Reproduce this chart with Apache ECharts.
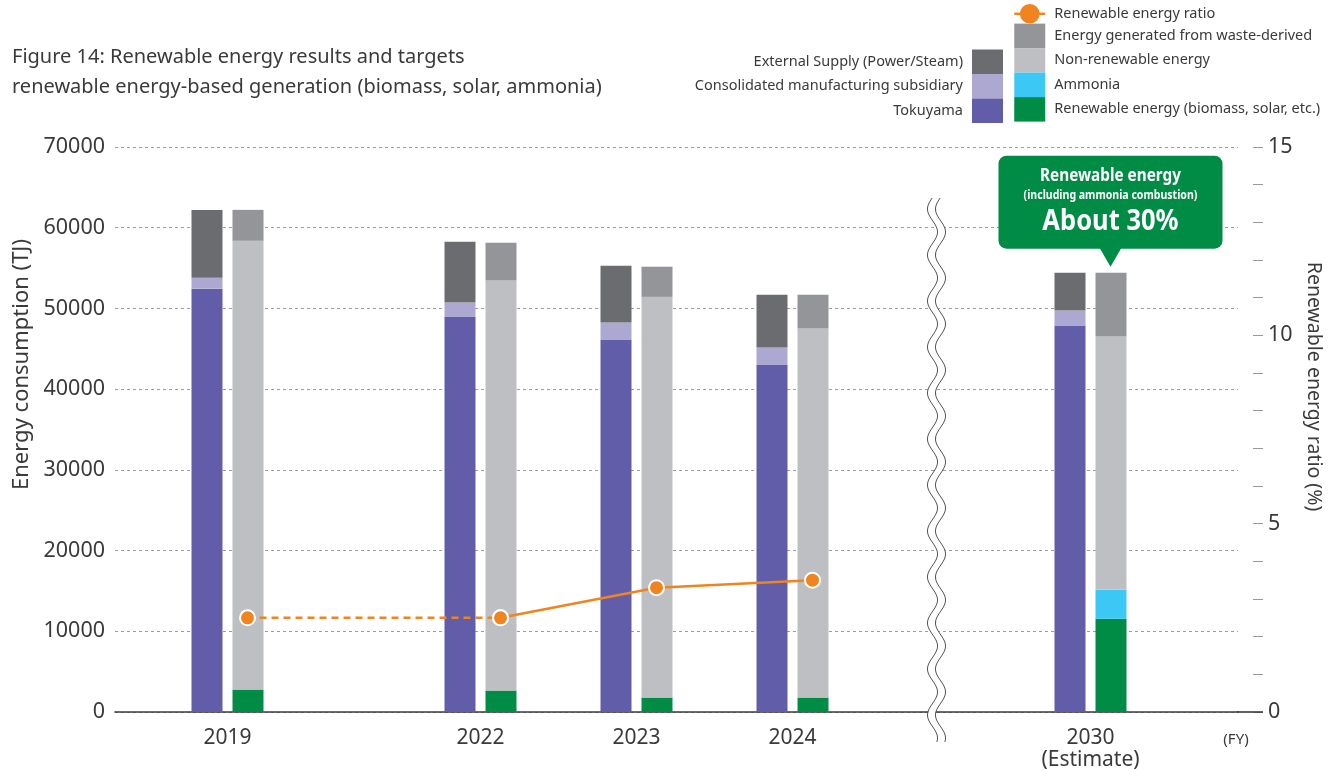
<!DOCTYPE html>
<html>
<head>
<meta charset="utf-8">
<title>Renewable energy results and targets</title>
<script src="https://cdn.jsdelivr.net/npm/echarts@6/dist/echarts.min.js"></script>
<style>
  html, body { margin: 0; padding: 0; background: #fff; }
  #chart { width: 1339px; height: 771px; }
</style>
</head>
<body>
<div id="chart"></div>
<script>
// ---- data (TJ per fiscal year, each array is one stacked segment) ----
const fiscalYears = ['2019', '2022', '2023', '2024', '2030\n(Estimate)'];

// left column: consumption by entity
const tokuyama       = [52450, 49000, 46150, 43060, 47880];
const consolidated   = [1360, 1720, 2100, 2100, 1850];
const externalSupply = [8400, 7540, 7050, 6550, 4700];

// right column: consumption by source
const renewable    = [2780, 2660, 1790, 1790, 11550];
const ammonia      = [0, 0, 0, 0, 3590];
const nonRenewable = [55600, 50790, 49640, 45720, 31380];
const wasteDerived = [3830, 4690, 3740, 4200, 7910];

// renewable energy ratio (%)
const renewableRatio = [2.5, 2.5, 3.3, 3.5, null];

// axis ticks
const energyTicks = [0, 10000, 20000, 30000, 40000, 50000, 60000, 70000];
const ratioTicks  = [0, 5, 10, 15];

// ---- layout of the broken time axis ----
// The axis is divided into fine slots so that the year groups can sit
// at uneven distances (the 2024-2030 stretch is compressed by a break).
const slotCount = 1123;
const groupSlot = [112, 365, 521, 677, 975];
const BAR_W = 31, BAR_GAP = 10;
const pairShift = Math.floor((BAR_W + BAR_GAP) / 2);   // slot offset of the right column

const FONT = "'Noto Sans', 'Open Sans', sans-serif";
const TEXT = '#3a3a3a';

const C = {
  tokuyama: '#615DA8', consolidated: '#ADA8D2', external: '#6B6C70',
  waste: '#949599', nonRenew: '#BEBFC3', ammonia: '#3CC8F4',
  renew: '#008C44', ratio: '#F0841E'
};

const slotLabels = new Array(slotCount).fill('');
groupSlot.forEach((s, i) => { slotLabels[s] = fiscalYears[i]; });

// spread a per-year array over the slot axis
function spread(arr, shift, pick) {
  const out = new Array(slotCount).fill(null);
  (pick || arr.map((_, i) => i)).forEach(i => { out[groupSlot[i] + (shift || 0)] = arr[i]; });
  return out;
}

function barSeries(name, data, stack, color) {
  return {
    name, type: 'bar', stack, data: spread(data),
    barWidth: BAR_W, barGap: (BAR_GAP / BAR_W * 100) + '%',
    itemStyle: { color }, emphasis: { disabled: true }, z: 3
  };
}

const lineCommon = {
  name: 'Renewable energy ratio', type: 'line', xAxisIndex: 0, yAxisIndex: 1,
  symbol: 'circle', symbolSize: 15, connectNulls: true,
  itemStyle: { color: C.ratio, borderColor: '#fff', borderWidth: 2 },
  emphasis: { disabled: true }, z: 5
};

const chart = echarts.init(document.getElementById('chart'));

const legendText = { fontFamily: FONT, fontSize: 14.5, color: TEXT };

const option = {
  animation: false,
  textStyle: { fontFamily: FONT },
  grid: { left: 115, top: 147, width: slotCount, bottom: 57.5, containLabel: false },
  legend: [
    {
      data: ['External Supply (Power/Steam)', 'Consolidated manufacturing subsidiary', 'Tokuyama']
        .map(name => ({ name, icon: 'rect' })),
      orient: 'vertical', align: 'right', right: 336, top: 49.5, padding: 0,
      itemWidth: 31, itemHeight: 24.5, itemGap: 0, selectedMode: false,
      textStyle: Object.assign({ padding: [0, 4, 0, 0] }, legendText)
    },
    {
      data: [{
        name: 'Renewable energy ratio',
        lineStyle: { type: 'solid', width: 2.5, color: C.ratio },
        itemStyle: { color: C.ratio, borderWidth: 0 }
      }].concat(
        ['Energy generated from waste-derived', 'Non-renewable energy', 'Ammonia',
         'Renewable energy (biomass, solar, etc.)'].map(name => ({ name, icon: 'rect' }))),
      orient: 'vertical', align: 'left', left: 1013, top: 4, padding: 0,
      itemWidth: 31, itemHeight: 24.5, itemGap: 0, selectedMode: false,
      textStyle: Object.assign({ padding: [0, 0, 0, 4] }, legendText)
    }
  ],
  xAxis: {
    type: 'category', data: slotLabels, boundaryGap: true,
    axisLine: { show: true, lineStyle: { color: '#3a3a3a', width: 1.6 } },
    axisTick: { show: false },
    splitLine: { show: false },
    axisLabel: {
      interval: 0, fontFamily: FONT, fontSize: 21, color: TEXT, lineHeight: 22, margin: 15
    }
  },
  yAxis: [
    {
      type: 'value', min: energyTicks[0], max: energyTicks[energyTicks.length - 1],
      interval: energyTicks[1] - energyTicks[0],
      name: 'Energy consumption (TJ)', nameLocation: 'middle', nameGap: 79,
      nameTextStyle: { fontFamily: FONT, fontSize: 22, color: TEXT, padding: [0, 0, 0, 130] },
      axisLine: { show: false }, axisTick: { show: false },
      axisLabel: { fontFamily: FONT, fontSize: 21.5, color: TEXT, margin: 10, formatter: v => String(v) },
      splitLine: { lineStyle: { color: '#9d9d9d', type: [3, 3], width: 1 } }
    },
    {
      type: 'value', min: 0, max: ratioTicks[ratioTicks.length - 1], interval: 1,
      position: 'right', offset: 15,
      name: 'Renewable energy ratio (%)', nameLocation: 'middle', nameGap: 44, nameRotate: -90,
      nameTextStyle: { fontFamily: FONT, fontSize: 19.5, color: TEXT, padding: [0, 86, 0, 0] },
      axisLine: { show: false },
      axisTick: { show: true, length: 10, inside: false, lineStyle: { color: '#9a9a9a', width: 1 } },
      axisLabel: {
        fontFamily: FONT, fontSize: 21.5, color: TEXT, margin: 15,
        formatter: v => (ratioTicks.indexOf(v) >= 0 ? String(v) : '')
      },
      splitLine: { show: false }
    }
  ],
  series: [
    barSeries('Tokuyama', tokuyama, 'entity', C.tokuyama),
    barSeries('Consolidated manufacturing subsidiary', consolidated, 'entity', C.consolidated),
    barSeries('External Supply (Power/Steam)', externalSupply, 'entity', C.external),
    barSeries('Renewable energy (biomass, solar, etc.)', renewable, 'source', C.renew),
    barSeries('Ammonia', ammonia, 'source', C.ammonia),
    barSeries('Non-renewable energy', nonRenewable, 'source', C.nonRenew),
    barSeries('Energy generated from waste-derived', wasteDerived, 'source', C.waste),
    // actual results 2022 -> 2024
    Object.assign({}, lineCommon, {
      data: spread(renewableRatio, pairShift, [1, 2, 3]),
      lineStyle: { color: C.ratio, width: 2.5 }
    }),
    // 2019 -> 2022 (dashed)
    Object.assign({}, lineCommon, {
      data: spread(renewableRatio, pairShift, [0, 1]),
      lineStyle: { color: C.ratio, width: 2.5, type: [7, 5] }
    })
  ]
};

chart.setOption(option);

// ---- decorations placed from the axes ----
const toPx = (slot, y) => chart.convertToPixel({ xAxisIndex: 0, yAxisIndex: 0 }, [slot, y]);
const axisY = toPx(0, 0)[1];
const gridRect = chart.getModel().getComponent('grid').coordinateSystem.getRect();
const gridRight = gridRect.x + gridRect.width;

// wavy break between 2024 and 2030
const breakX = toPx(Math.round((groupSlot[3] + groupSlot[4]) / 2) - 5, 0)[0];
function wave(dx, y0, y1) {
  const out = [];
  for (let y = y0; y <= y1; y += 1) {
    out.push([breakX + dx - 5 * Math.cos(2 * Math.PI * (y - 623) / 46), y]);
  }
  return out;
}
const breakTop = 198, breakBottom = 742;

// callout above the 2030 source column
const cTop = renewable[4] + ammonia[4] + nonRenewable[4] + wasteDerived[4];
const tip = toPx(groupSlot[4] + pairShift, cTop);
const tipX = tip[0], tipY = tip[1] - 6;
const boxW = 224, boxH = 93, boxBottom = tipY - 18;
const boxX = tipX - boxW / 2, boxY = boxBottom - boxH;

chart.setOption({
  graphic: [
    { type: 'text', left: 12, top: 47, style: { text: 'Figure 14: Renewable energy results and targets', font: "20px 'Noto Sans'", fill: TEXT } },
    { type: 'text', left: 12, top: 77, style: { text: 'renewable energy-based generation (biomass, solar, ammonia)', font: "20px 'Noto Sans'", fill: TEXT } },
    { type: 'text', x: 1236, y: 740, style: { text: '(FY)', font: "15px 'Noto Sans'", fill: TEXT, align: 'center', verticalAlign: 'middle' } },
    { type: 'line', z: 50, shape: { x1: gridRight - 1, y1: axisY, x2: gridRight + 25, y2: axisY }, style: { stroke: '#3a3a3a', lineWidth: 1.6 } },
    { type: 'polyline', z: 100, shape: { points: wave(0, breakTop, breakBottom) }, style: { stroke: '#fff', lineWidth: 7, fill: null } },
    { type: 'polyline', z: 101, shape: { points: wave(-4, breakTop, breakBottom) }, style: { stroke: '#555', lineWidth: 1, fill: null } },
    { type: 'polyline', z: 101, shape: { points: wave(4, breakTop, breakBottom) }, style: { stroke: '#555', lineWidth: 1, fill: null } },
    { type: 'rect', z: 110, shape: { x: boxX, y: boxY, width: boxW, height: boxH, r: 8 }, style: { fill: C.renew } },
    { type: 'polygon', z: 110, shape: { points: [[tipX - 11, boxBottom - 1], [tipX + 11, boxBottom - 1], [tipX, tipY]] }, style: { fill: C.renew } },
    { type: 'text', z: 111, x: tipX, y: boxY + 20, scaleX: 0.9, style: { text: 'Renewable energy', font: "bold 17px 'Noto Sans'", fill: '#fff', align: 'center', verticalAlign: 'middle' } },
    { type: 'text', z: 111, x: tipX, y: boxY + 40, scaleX: 0.88, style: { text: '(including ammonia combustion)', font: "bold 12px 'Noto Sans'", fill: '#fff', align: 'center', verticalAlign: 'middle' } },
    { type: 'text', z: 111, x: tipX, y: boxY + 66, scaleX: 0.88, style: { text: 'About 30%', font: "bold 29px 'Noto Sans'", fill: '#fff', align: 'center', verticalAlign: 'middle' } }
  ]
});
</script>
</body>
</html>
